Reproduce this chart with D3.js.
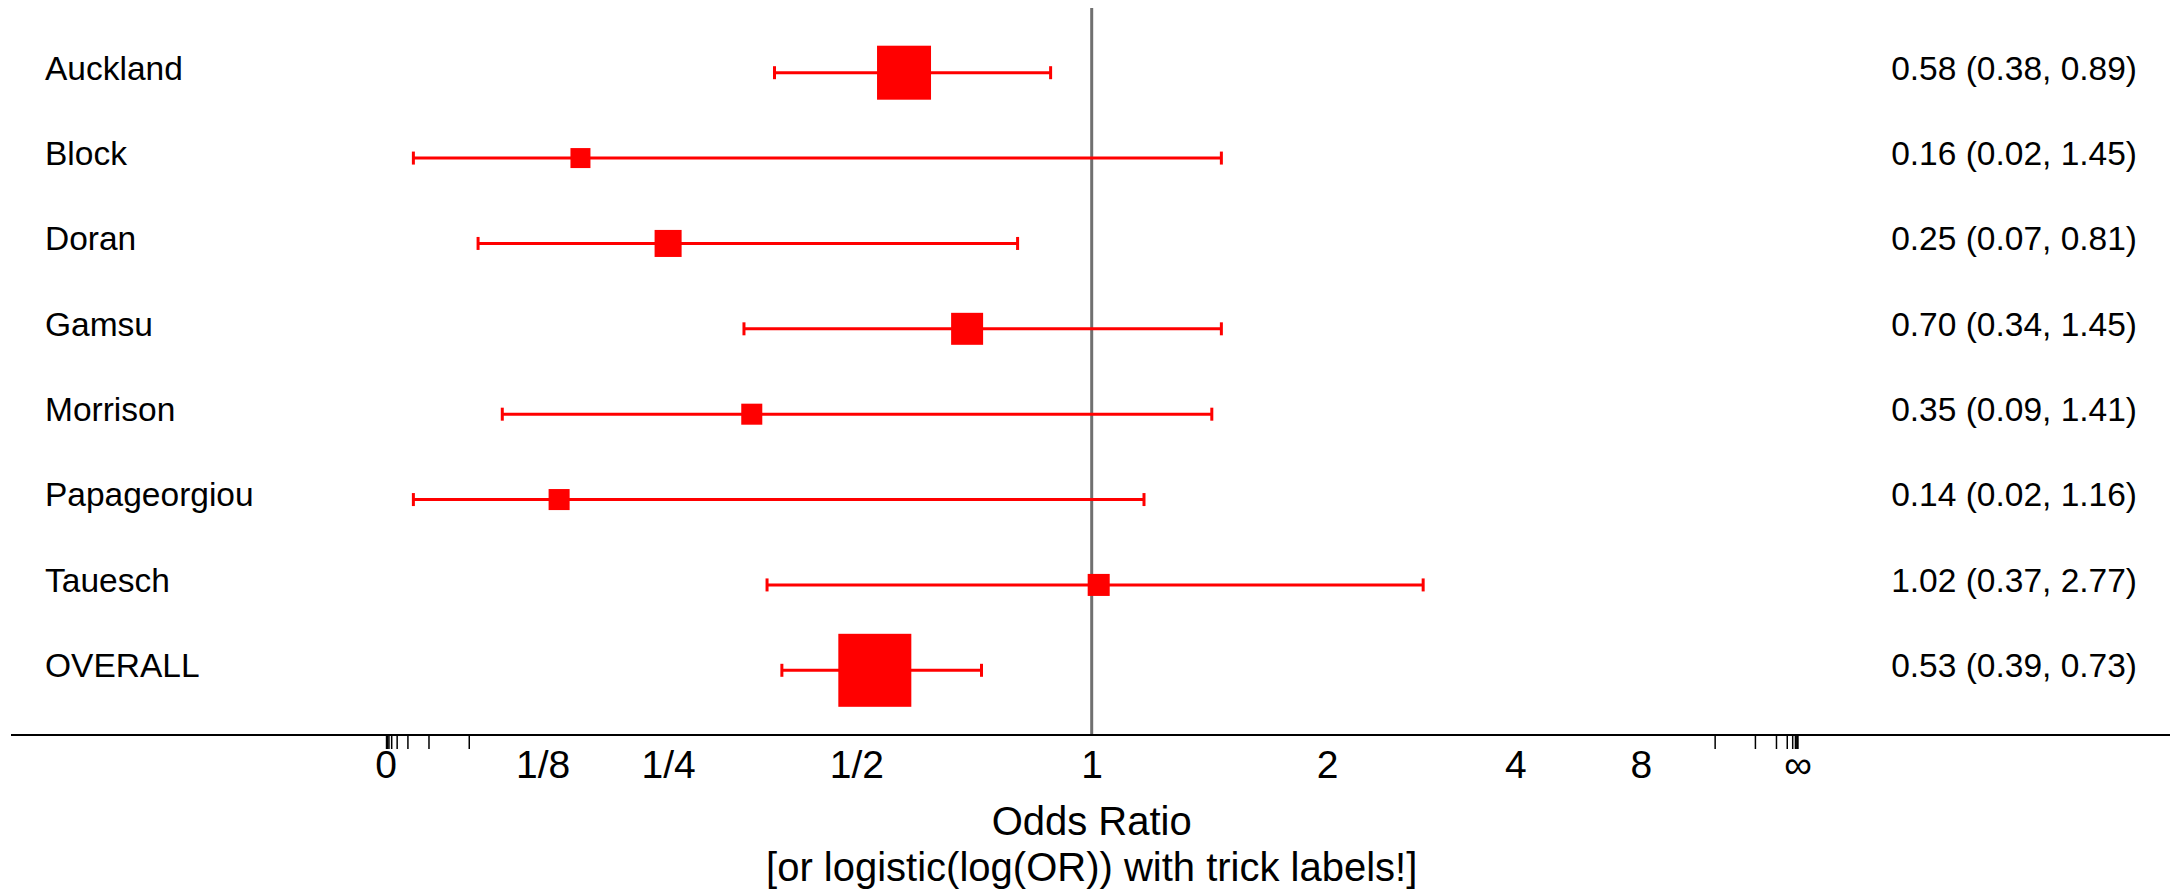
<!DOCTYPE html>
<html>
<head>
<meta charset="utf-8">
<script src="https://cdn.jsdelivr.net/npm/d3@7"></script>
<style>
  html, body { margin: 0; padding: 0; background: #fff; }
  svg { display: block; font-family: "Liberation Sans", Arial, sans-serif; }
</style>
</head>
<body>
<svg id="chart" width="2174" height="890"></svg>
<script>
// Studies in the meta-analysis, top to bottom
const studies = ["Auckland", "Block", "Doran", "Gamsu", "Morrison", "Papageorgiou", "Tauesch", "OVERALL"];
// Odds ratio and 95% confidence limits
const oddsRatio = [0.58, 0.16, 0.25, 0.70, 0.35, 0.14, 1.02, 0.53];
const lowerCI   = [0.38, 0.02, 0.07, 0.34, 0.09, 0.02, 0.37, 0.39];
const upperCI   = [0.89, 1.45, 0.81, 1.45, 1.41, 1.16, 2.77, 0.73];
// Relative weight of each box (overall = 100)
const boxWeight = [54.7, 7.5, 13.7, 19.2, 8.3, 8.3, 9.1, 100];
// Axis ticks, in odds-ratio units
const majorTicks = [0, 1/8, 1/4, 1/2, 1, 2, 4, 8, Infinity];
const majorLabels = ["0", "1/8", "1/4", "1/2", "1", "2", "4", "8", "\u221E"];
const minorTicks = [1/16, 1/32, 1/64, 1/128, 1/256, 1/512, 1/1024, 1/2048, 1/4096,
                    16, 32, 64, 128, 256, 512, 1024, 2048, 4096];

const rows = studies.map((s, i) => ({
  name: s, or: oddsRatio[i], lo: lowerCI[i], hi: upperCI[i], w: boxWeight[i]
}));

// logistic(log(OR)) = OR / (1 + OR), mapping [0, inf] onto [0, 1]
const toP = or => (or === Infinity ? 1 : or / (1 + or));

const svg = d3.select("#chart");
const x = d3.scaleLinear().domain([0, 1]).range([385.7, 1797.7]);
const y = d3.scalePoint().domain(studies).range([72.7, 670.3]);
const side = d3.scaleSqrt().domain([0, 100]).range([0, 73]);
const axisY = 735;
const red = "#ff0000";

// reference line at OR = 1
svg.append("line")
  .attr("x1", x(toP(1))).attr("x2", x(toP(1)))
  .attr("y1", 8).attr("y2", axisY)
  .attr("stroke", "#707070").attr("stroke-width", 3);

// confidence intervals
const g = svg.append("g");
const row = g.selectAll("g.row").data(rows).join("g").attr("class", "row");
row.append("line")
  .attr("x1", d => x(toP(d.lo))).attr("x2", d => x(toP(d.hi)))
  .attr("y1", d => y(d.name)).attr("y2", d => y(d.name))
  .attr("stroke", red).attr("stroke-width", 3);
["lo", "hi"].forEach(k => {
  row.append("line")
    .attr("x1", d => x(toP(d[k]))).attr("x2", d => x(toP(d[k])))
    .attr("y1", d => y(d.name) - 6.5).attr("y2", d => y(d.name) + 6.5)
    .attr("stroke", red).attr("stroke-width", 3);
});
// point estimates, box area by weight
row.append("rect")
  .attr("x", d => x(toP(d.or)) - side(d.w) / 2)
  .attr("y", d => y(d.name) - side(d.w) / 2)
  .attr("width", d => side(d.w)).attr("height", d => side(d.w))
  .attr("fill", red);

// study names and estimates
row.append("text")
  .attr("x", 45).attr("y", d => y(d.name) + 6.8)
  .attr("font-size", 33.5).attr("fill", "#000")
  .text(d => d.name);
row.append("text")
  .attr("x", 2137).attr("y", d => y(d.name) + 6.8)
  .attr("text-anchor", "end")
  .attr("font-size", 33.5).attr("fill", "#000")
  .text(d => `${d.or.toFixed(2)} (${d.lo.toFixed(2)}, ${d.hi.toFixed(2)})`);

// axis line
svg.append("line")
  .attr("x1", 11).attr("x2", 2170)
  .attr("y1", axisY).attr("y2", axisY)
  .attr("stroke", "#000").attr("stroke-width", 2);

// major tick labels
const majorAxis = d3.axisBottom(x)
  .tickValues(majorTicks.map(toP))
  .tickFormat((d, i) => majorLabels[i])
  .tickSize(0).tickPadding(15);
const ga = svg.append("g").attr("transform", `translate(0,${axisY})`).call(majorAxis);
ga.select(".domain").remove();
ga.selectAll("text").attr("font-size", 39).attr("font-family", "\"Liberation Sans\", Arial, sans-serif").attr("fill", "#000");

// minor ticks without labels
const minorAxis = d3.axisBottom(x)
  .tickValues(minorTicks.map(toP))
  .tickFormat("")
  .tickSize(14);
const gm = svg.append("g").attr("transform", `translate(0,${axisY})`).call(minorAxis);
gm.select(".domain").remove();
gm.selectAll("line").attr("stroke", "#000").attr("stroke-width", 1.5);

// axis title, two lines
svg.append("text")
  .attr("x", x(toP(1))).attr("y", 835).attr("text-anchor", "middle")
  .attr("font-size", 40).attr("fill", "#000")
  .text("Odds Ratio");
svg.append("text")
  .attr("x", x(toP(1))).attr("y", 881).attr("text-anchor", "middle")
  .attr("font-size", 40).attr("fill", "#000")
  .text("[or logistic(log(OR)) with trick labels!]");
</script>
</body>
</html>
